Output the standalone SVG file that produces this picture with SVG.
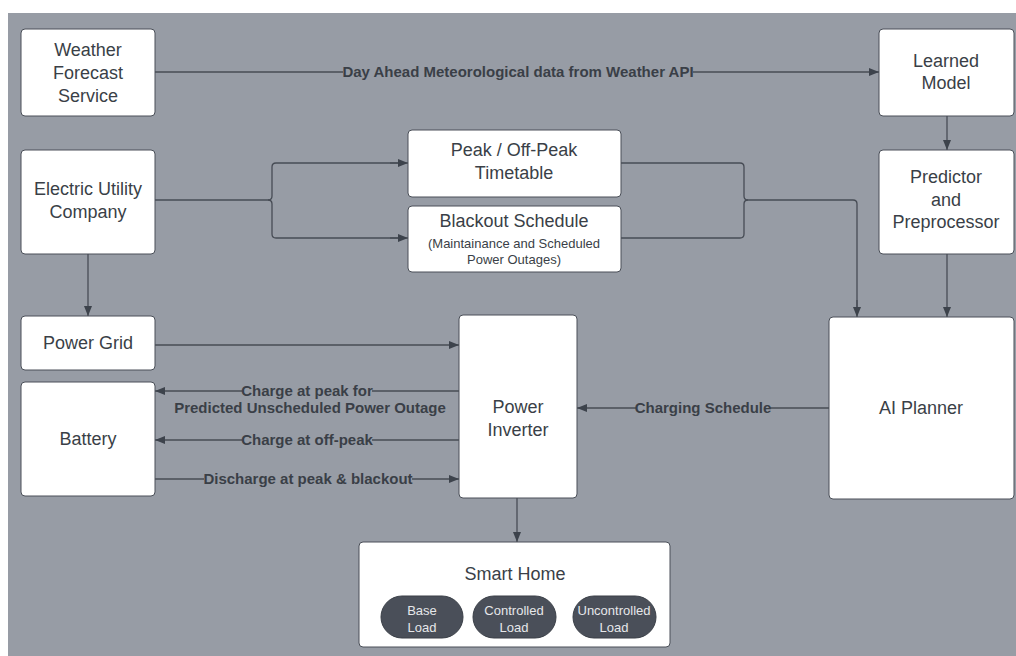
<svg xmlns="http://www.w3.org/2000/svg" width="1016" height="656" viewBox="0 0 1016 656">
<defs>
<marker id="arr" viewBox="0 0 10 10" refX="10" refY="5" markerWidth="10" markerHeight="10" markerUnits="userSpaceOnUse" orient="auto">
<path d="M0,1 L10,5 L0,9 Z" fill="#3d434c"/>
</marker>
<style>
.node rect.box{fill:#ffffff;stroke:#4a4f58;stroke-width:1}
.t{font-family:"Liberation Sans",Arial,sans-serif;font-size:18px;fill:#3a3f47;text-anchor:middle}
.s{font-family:"Liberation Sans",Arial,sans-serif;font-size:13px;fill:#3a3f47;text-anchor:middle}
.pill{fill:#4a4f59;stroke:#3a3f47;stroke-width:1}
.pt{font-family:"Liberation Sans",Arial,sans-serif;font-size:13px;fill:#e6e7ea;text-anchor:middle}
.c{fill:none;stroke:#474c55;stroke-width:1.3}
.ca{fill:none;stroke:#474c55;stroke-width:1.3;marker-end:url(#arr)}
.lb{font-family:"Liberation Sans",Arial,sans-serif;font-size:15px;font-weight:bold;fill:#3a3f47;text-anchor:middle}
.lbg{fill:#979ca5}
</style>
</defs>
<rect x="0" y="0" width="1016" height="656" fill="#ffffff"/>
<rect x="8" y="13" width="1008" height="643" fill="#979ca5"/>

<g id="connectors">
<path class="ca" d="M155,72 H879"/>
<path class="ca" d="M947,116 V150"/>
<path class="ca" d="M947,254 V317"/>
<path class="c" d="M155,200 H268 Q272,200 272,196 V167 Q272,163 276,163 H400"/>
<path class="ca" d="M390,163 H408"/>
<path class="c" d="M268,200 Q272,200 272,204 V234 Q272,238 276,238 H400"/>
<path class="ca" d="M390,238 H408"/>
<path class="c" d="M621,163 H740 Q744,163 744,167 V196 Q744,200 748,200 H853 Q857,200 857,204 V310"/>
<path class="c" d="M621,238 H740 Q744,238 744,234 V204 Q744,200 748,200"/>
<path class="ca" d="M857,300 V317"/>
<path class="ca" d="M88,254 V316"/>
<path class="ca" d="M155,345 H459"/>
<path class="ca" d="M829,408 H577"/>
<path class="ca" d="M459,391 H155"/>
<path class="ca" d="M459,440 H155"/>
<path class="ca" d="M155,479 H459"/>
<path class="ca" d="M517,498 V542"/>

<rect class="lbg" x="343" y="63" width="350" height="18"/>
<text class="lb" x="518" y="77">Day Ahead Meteorological data from Weather API</text>
<rect class="lbg" x="636" y="399" width="134" height="18"/>
<text class="lb" x="703" y="413">Charging Schedule</text>
<rect class="lbg" x="242" y="382" width="130" height="18"/>
<text class="lb" x="307" y="396">Charge at peak for</text>
<text class="lb" x="310" y="413">Predicted Unscheduled Power Outage</text>
<rect class="lbg" x="242" y="431" width="130" height="18"/>
<text class="lb" x="307" y="445">Charge at off-peak</text>
<rect class="lbg" x="204" y="470" width="208" height="18"/>
<text class="lb" x="308" y="484">Discharge at peak &amp; blackout</text>
</g>

<g id="weather" class="node">
<rect class="box" x="21" y="29" width="134" height="87" rx="4"/>
<text class="t" x="88" y="56">Weather</text>
<text class="t" x="88" y="79">Forecast</text>
<text class="t" x="88" y="102">Service</text>
</g>
<g id="learned" class="node">
<rect class="box" x="879" y="29" width="135" height="87" rx="4"/>
<text class="t" x="946" y="67">Learned</text>
<text class="t" x="946" y="89">Model</text>
</g>
<g id="predictor" class="node">
<rect class="box" x="879" y="150" width="135" height="104" rx="4"/>
<text class="t" x="946" y="183">Predictor</text>
<text class="t" x="946" y="206">and</text>
<text class="t" x="946" y="228">Preprocessor</text>
</g>
<g id="utility" class="node">
<rect class="box" x="21" y="150" width="134" height="104" rx="4"/>
<text class="t" x="88" y="195">Electric Utility</text>
<text class="t" x="88" y="218">Company</text>
</g>
<g id="peak" class="node">
<rect class="box" x="408" y="130" width="213" height="67" rx="4"/>
<text class="t" x="514" y="156">Peak / Off-Peak</text>
<text class="t" x="514" y="179">Timetable</text>
</g>
<g id="blackout" class="node">
<rect class="box" x="408" y="206" width="213" height="66" rx="4"/>
<text class="t" x="514" y="227">Blackout Schedule</text>
<text class="s" x="514" y="248">(Maintainance and Scheduled</text>
<text class="s" x="514" y="264">Power Outages)</text>
</g>
<g id="grid" class="node">
<rect class="box" x="21" y="316" width="134" height="54" rx="4"/>
<text class="t" x="88" y="349">Power Grid</text>
</g>
<g id="battery" class="node">
<rect class="box" x="21" y="382" width="134" height="114" rx="4"/>
<text class="t" x="88" y="445">Battery</text>
</g>
<g id="inverter" class="node">
<rect class="box" x="459" y="315" width="118" height="183" rx="4"/>
<text class="t" x="518" y="413">Power</text>
<text class="t" x="518" y="436">Inverter</text>
</g>
<g id="planner" class="node">
<rect class="box" x="829" y="317" width="185" height="182" rx="4"/>
<text class="t" x="921" y="414">AI Planner</text>
</g>
<g id="smarthome" class="node">
<rect class="box" x="359" y="542" width="311" height="105" rx="4"/>
<text class="t" x="515" y="580">Smart Home</text>
<rect class="pill" x="381" y="596" width="82" height="42" rx="21"/>
<text class="pt" x="422" y="615">Base</text>
<text class="pt" x="422" y="632">Load</text>
<rect class="pill" x="473" y="596" width="83" height="42" rx="21"/>
<text class="pt" x="514" y="615">Controlled</text>
<text class="pt" x="514" y="632">Load</text>
<rect class="pill" x="573" y="596" width="83" height="42" rx="21"/>
<text class="pt" x="614" y="615">Uncontrolled</text>
<text class="pt" x="614" y="632">Load</text>
</g>
</svg>
